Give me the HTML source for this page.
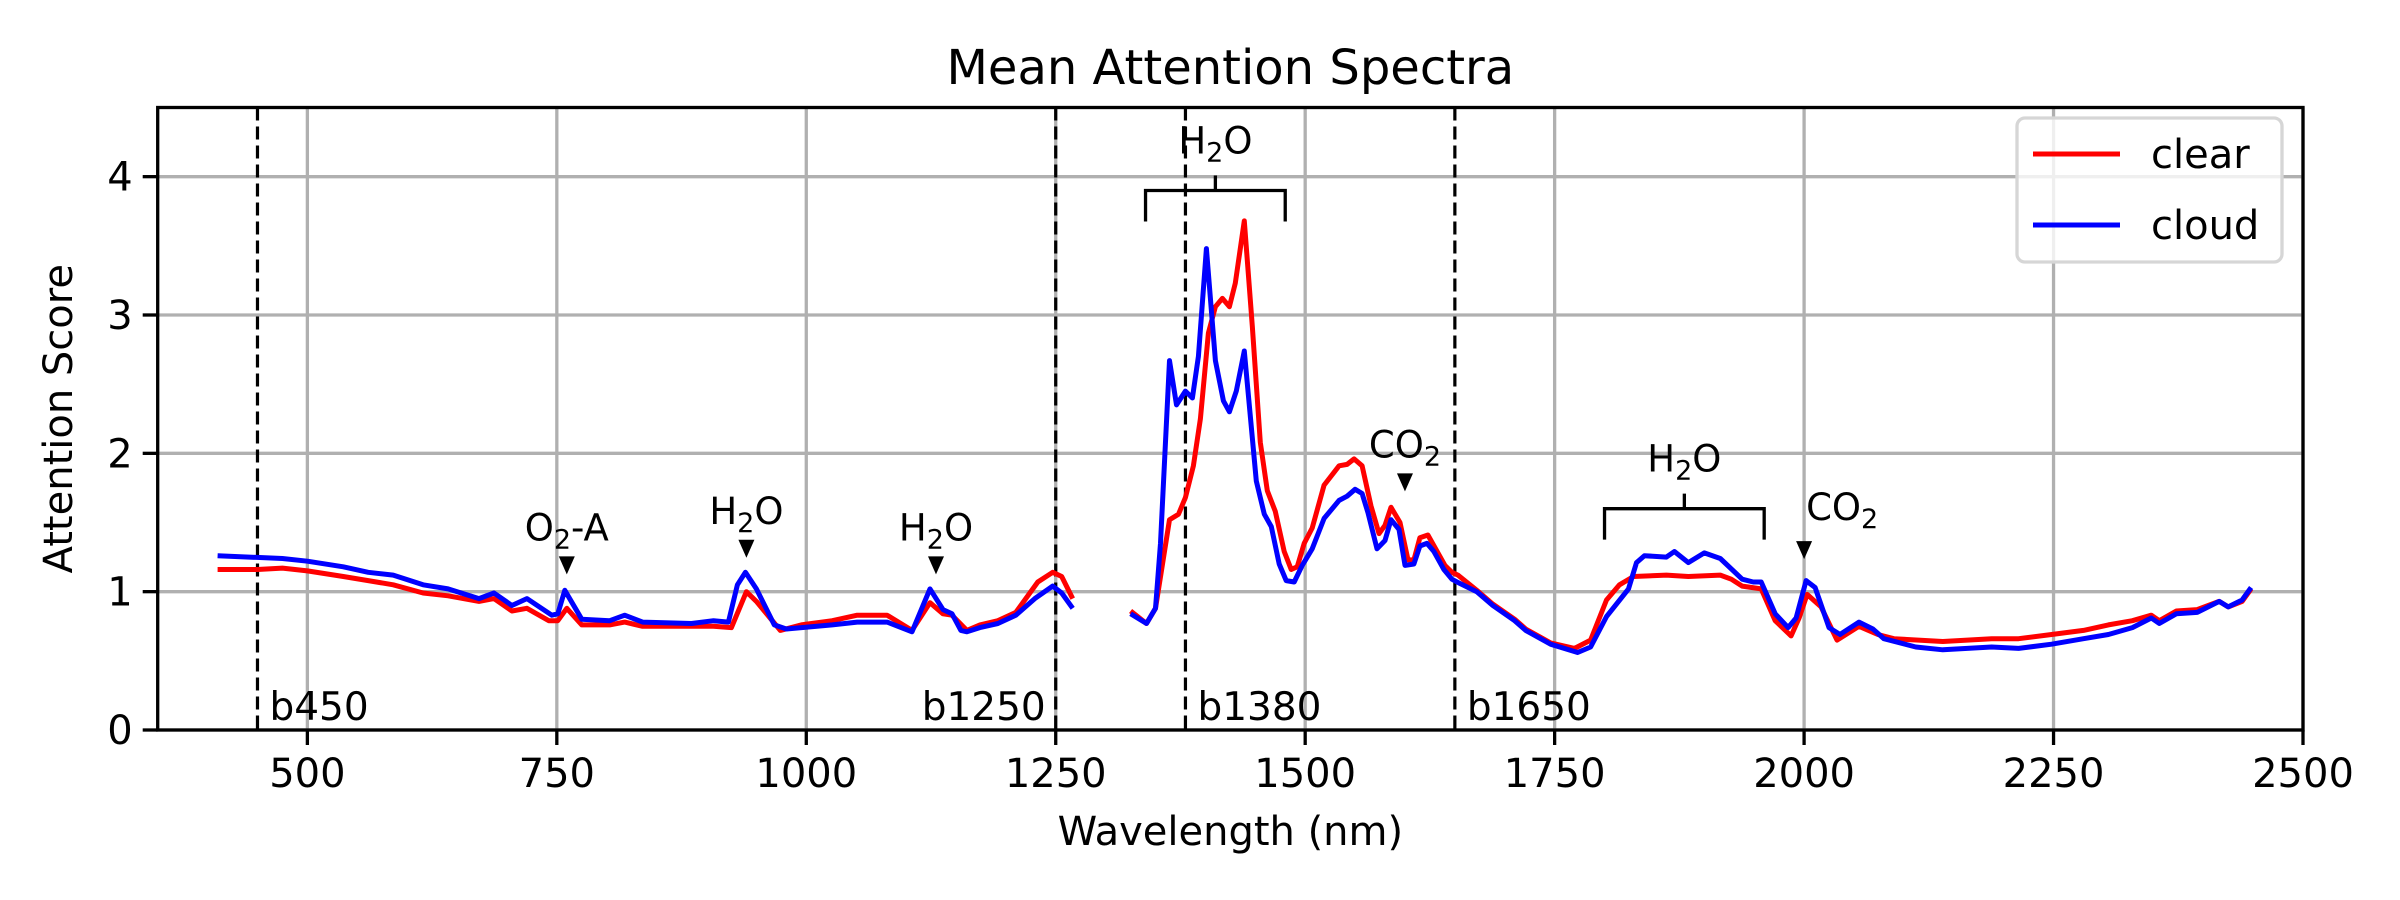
<!DOCTYPE html>
<html><head><meta charset="utf-8"><style>
html,body{margin:0;padding:0;background:#fff;}
svg{display:block;font-family:"DejaVu Sans","Liberation Sans",sans-serif;}
</style></head><body>
<svg id="chart" width="2400" height="900" viewBox="0 0 2400 900" xmlns="http://www.w3.org/2000/svg"></svg>
<script>
const xTicks=[500,750,1000,1250,1500,1750,2000,2250,2500];
const yTicks=[0,1,2,3,4];
const bandLines=[450,1250,1380,1650];
const bandLabels=["b450","b1250","b1380","b1650"];
const clearWl=[410,450,475,500,536,561,586,616,641,672,687,705,720,742,751,760,775,803,818,836,885,907,925,940,950,974,995,1026,1051,1081,1106,1124,1137,1146,1161,1174,1192,1210,1232,1247,1256,1267,1290,1325,1341,1350,1364,1373,1380,1388,1395,1403,1410,1417,1424,1430,1439,1447,1455,1462,1470,1479,1486,1492,1499,1507,1519,1534,1542,1549,1557,1566,1574,1580,1586,1595,1603,1609,1615,1623,1640,1647,1653,1672,1688,1710,1721,1746,1770,1786,1802,1815,1829,1862,1884,1916,1927,1938,1957,1971,1987,1995,2003,2017,2033,2055,2074,2090,2139,2188,2215,2248,2280,2305,2329,2348,2356,2373,2394,2416,2425,2439,2448];
const clearVals=[1.16,1.16,1.17,1.15,1.11,1.08,1.05,0.99,0.97,0.93,0.95,0.86,0.88,0.79,0.79,0.88,0.76,0.76,0.78,0.75,0.75,0.75,0.74,1.00,0.93,0.72,0.76,0.79,0.83,0.83,0.72,0.92,0.84,0.83,0.72,0.76,0.79,0.85,1.07,1.14,1.11,0.95,null,0.86,0.77,0.88,1.52,1.56,1.68,1.91,2.25,2.87,3.06,3.12,3.06,3.23,3.68,2.92,2.08,1.73,1.58,1.29,1.16,1.18,1.35,1.46,1.77,1.91,1.92,1.96,1.91,1.62,1.42,1.48,1.61,1.50,1.23,1.23,1.39,1.41,1.19,1.14,1.12,1.01,0.91,0.80,0.73,0.63,0.59,0.65,0.94,1.05,1.11,1.12,1.11,1.12,1.09,1.04,1.02,0.79,0.68,0.81,0.98,0.89,0.65,0.75,0.69,0.66,0.64,0.66,0.66,0.69,0.72,0.76,0.79,0.83,0.79,0.86,0.87,0.93,0.89,0.93,1.02];
const cloudWl=[410,475,500,536,561,586,616,641,672,687,705,720,745,751,758,775,803,818,836,885,907,922,931,939,950,968,980,1026,1051,1081,1106,1124,1137,1146,1155,1161,1174,1192,1210,1229,1247,1256,1267,1290,1325,1341,1350,1355,1364,1371,1380,1387,1393,1401,1410,1418,1424,1431,1439,1451,1459,1466,1474,1481,1489,1497,1507,1519,1534,1542,1550,1557,1563,1572,1580,1586,1594,1600,1609,1615,1622,1629,1639,1647,1655,1672,1688,1710,1721,1746,1773,1786,1802,1824,1832,1840,1862,1870,1884,1900,1916,1938,1949,1957,1971,1984,1992,2002,2011,2025,2036,2055,2069,2080,2112,2139,2188,2215,2248,2280,2305,2329,2348,2356,2373,2394,2416,2425,2439,2448];
const cloudVals=[1.26,1.24,1.22,1.18,1.14,1.12,1.05,1.02,0.95,0.99,0.90,0.95,0.83,0.84,1.01,0.80,0.79,0.83,0.78,0.77,0.79,0.78,1.05,1.14,1.02,0.76,0.73,0.76,0.78,0.78,0.71,1.02,0.87,0.84,0.72,0.71,0.74,0.77,0.83,0.95,1.04,0.99,0.88,null,0.84,0.77,0.88,1.35,2.67,2.35,2.45,2.40,2.70,3.48,2.67,2.38,2.30,2.45,2.74,1.80,1.56,1.47,1.20,1.08,1.07,1.19,1.31,1.53,1.66,1.69,1.74,1.71,1.57,1.31,1.37,1.52,1.45,1.19,1.20,1.33,1.35,1.29,1.16,1.09,1.06,1.00,0.90,0.79,0.72,0.62,0.56,0.60,0.82,1.02,1.21,1.26,1.25,1.29,1.21,1.28,1.24,1.09,1.07,1.07,0.84,0.74,0.81,1.08,1.03,0.74,0.69,0.78,0.73,0.66,0.60,0.58,0.60,0.59,0.62,0.66,0.69,0.74,0.81,0.77,0.84,0.85,0.93,0.89,0.94,1.03];
const markerWl=[760,940,1130,1600,2000];
const markerVals=[1.19,1.31,1.19,1.79,1.30];
const markerLabels=["O2-A","H2O","H2O","CO2","CO2"];
const bracketStart=[1340,1800];
const bracketEnd=[1480,1960];
const bracketVals=[3.9,1.6];

const L=157.7,R=2303,T=107.5,B=730,XMIN=350,XMAX=2500,YMAX=4.5;
const X=w=>L+(w-XMIN)*(R-L)/(XMAX-XMIN);
const Y=v=>B-v*(B-T)/YMAX;
const svg=document.getElementById('chart');
const NS='http://www.w3.org/2000/svg';
function mk(tag,attrs,parent){const e=document.createElementNS(NS,tag);for(const k in attrs)e.setAttribute(k,attrs[k]);(parent||svg).appendChild(e);return e;}

xTicks.forEach(t=>{const g=mk('line',{x1:X(t),x2:X(t),y1:T,y2:B,stroke:'#b0b0b0','stroke-width':3.3});

});
yTicks.forEach(t=>{const g=mk('line',{x1:L,x2:R,y1:Y(t),y2:Y(t),stroke:'#b0b0b0','stroke-width':3.3});

});

bandLines.forEach((b,i)=>{const l=mk('line',{x1:X(b),x2:X(b),y1:T,y2:B,stroke:'#000','stroke-width':3.2,'stroke-dasharray':'13,6'});


const anchorEnd=(b===1250);
const t=mk('text',{x:anchorEnd?X(b)-10:X(b)+12,y:B-10,'font-size':39,'text-anchor':anchorEnd?'end':'start',fill:'#000'});
t.textContent=bandLabels[i];

});

function path(wl,vals){let d='',pen=false;for(let i=0;i<wl.length;i++){if(vals[i]===null){pen=false;continue;}d+=(pen?'L':'M')+X(wl[i]).toFixed(1)+','+Y(vals[i]).toFixed(1);pen=true;}return d;}
const pc=mk('path',{d:path(clearWl,clearVals),fill:'none',stroke:'#ff0000','stroke-width':5,'stroke-linejoin':'round'});


const pb=mk('path',{d:path(cloudWl,cloudVals),fill:'none',stroke:'#0000ff','stroke-width':5,'stroke-linejoin':'round'});



function chem(t,label){
  const m=label.match(/^([A-Z]+)(\d)(.*)$/);
  if(m){const a=mk('tspan',{},t);a.textContent=m[1];const s=mk('tspan',{'font-size':27,dy:8},t);s.textContent=m[2];const c=mk('tspan',{dy:-8},t);c.textContent=m[3];}
  else t.textContent=label;
}
markerWl.forEach((w,i)=>{const x=X(w),y=Y(markerVals[i]);
const tri=mk('path',{d:`M${x-8},${y-9}L${x+8},${y-9}L${x},${y+9}Z`,fill:'#000'});


const left=(w===2000);
const t=mk('text',{x:left?x+2:x,y:left?y-30:y-25,'font-size':37,'text-anchor':left?'start':'middle',fill:'#000'});
chem(t,markerLabels[i]);

});

bracketStart.forEach((s,i)=>{const x1=X(s),x2=X(bracketEnd[i]),y=Y(bracketVals[i]),xm=(x1+x2)/2;
const p=mk('path',{d:`M${x1},${y+31}L${x1},${y}L${x2},${y}L${x2},${y+31}M${xm},${y}L${xm},${y-15}`,fill:'none',stroke:'#000','stroke-width':3.3});


const t=mk('text',{x:xm,y:y-37,'font-size':37,'text-anchor':'middle',fill:'#000'});
chem(t,'H2O');

});

const sp=mk('rect',{x:L,y:T,width:R-L,height:B-T,fill:'none',stroke:'#000','stroke-width':3.3});



xTicks.forEach(t=>{const l=mk('line',{x1:X(t),x2:X(t),y1:B,y2:B+15,stroke:'#000','stroke-width':3.3});


const tx=mk('text',{x:X(t),y:B+57,'font-size':40,'text-anchor':'middle',fill:'#000'});tx.textContent=t;

});
yTicks.forEach(t=>{const l=mk('line',{x1:L-15,x2:L,y1:Y(t),y2:Y(t),stroke:'#000','stroke-width':3.3});


const tx=mk('text',{x:L-25,y:Y(t)+14,'font-size':40,'text-anchor':'end',fill:'#000'});tx.textContent=t;

});

const ti=mk('text',{x:(L+R)/2,y:84,'font-size':48,'text-anchor':'middle',fill:'#000'});ti.textContent='Mean Attention Spectra';


const xl=mk('text',{x:(L+R)/2,y:845,'font-size':40,'text-anchor':'middle',fill:'#000'});xl.textContent='Wavelength (nm)';


const yl=mk('text',{x:0,y:0,'font-size':40,'text-anchor':'middle',fill:'#000',transform:`translate(72,${(T+B)/2}) rotate(-90)`});yl.textContent='Attention Score';



const lg=mk('g',{});


mk('rect',{x:2017,y:118,width:265,height:144,rx:8,fill:'#fff','fill-opacity':0.8,stroke:'#d6d6d6','stroke-width':3.3},lg);
[['clear','#ff0000',154],['cloud','#0000ff',225]].forEach(([n,c,y])=>{
const e=mk('g',{},lg);


mk('line',{x1:2033,x2:2120,y1:y,y2:y,stroke:c,'stroke-width':5},e);
const t=mk('text',{x:2151,y:y+14,'font-size':40,fill:'#000'},e);t.textContent=n;});
</script>
</body></html>
